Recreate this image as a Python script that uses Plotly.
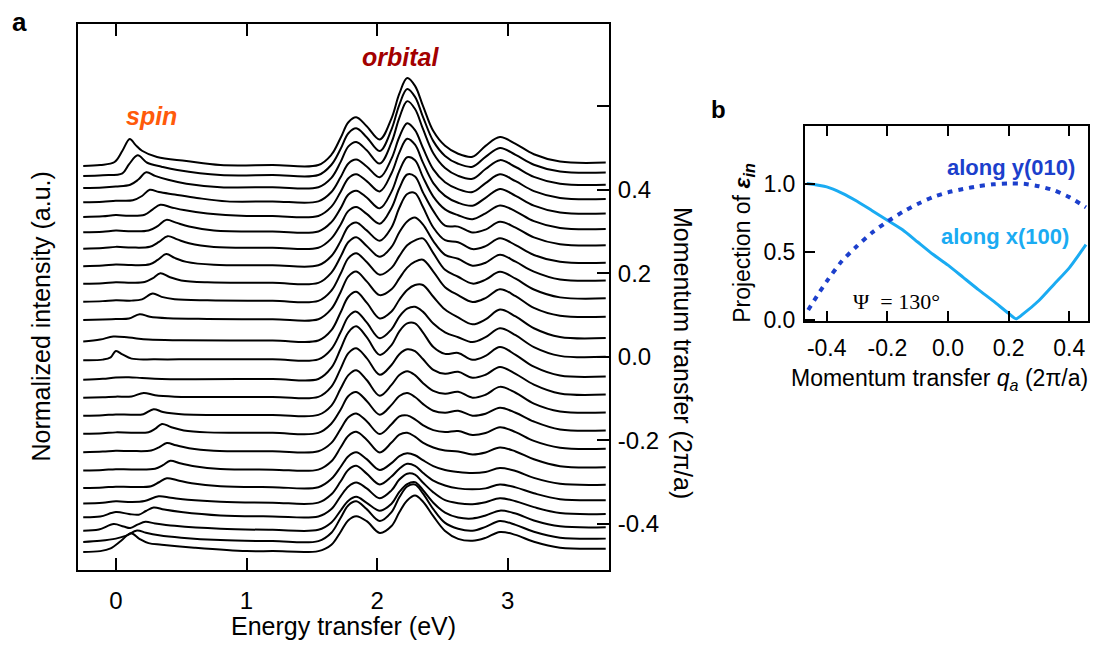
import plotly.graph_objects as go

W, H = 1094, 652

# ---------------- Panel a : RIXS spectra (waterfall) ----------------
# momentum transfer of each spectrum (offset on the right axis), top to bottom
momentum_q = [0.465, 0.441, 0.412, 0.378, 0.343, 0.306, 0.267, 0.225, 0.183, 0.140,
              0.096, 0.045, 0.0, -0.047, -0.090, -0.133, -0.176, -0.220, -0.264,
              -0.306, -0.343, -0.376, -0.408, -0.435, -0.459]

# low-energy (spin) part: energies and intensities (a.u.) read per spectrum
spin_energy = [
    [-0.25, -0.12, -0.01, 0.05, 0.106, 0.15, 0.2, 0.315, 0.54, 0.8, 1.2],
    [-0.25, -0.1, 0.05, 0.1, 0.167, 0.24, 0.35, 0.47, 0.8, 1.2],
    [-0.25, -0.1, 0.0, 0.11, 0.17, 0.233, 0.3, 0.4, 0.54, 0.8, 1.2],
    [-0.25, -0.1, 0.0, 0.13, 0.2, 0.259, 0.33, 0.45, 0.62, 0.85, 1.2],
    [-0.25, -0.1, 0.0, 0.1, 0.22, 0.28, 0.34, 0.42, 0.52, 0.7, 1.0, 1.2],
    [-0.25, -0.1, 0.0, 0.12, 0.25, 0.32, 0.386, 0.46, 0.56, 0.75, 1.2],
    [-0.25, -0.1, 0.0, 0.12, 0.26, 0.33, 0.396, 0.47, 0.56, 0.75, 1.2],
    [-0.25, -0.1, 0.0, 0.12, 0.26, 0.32, 0.386, 0.45, 0.54, 0.75, 1.2],
    [-0.25, -0.1, 0.0, 0.12, 0.22, 0.28, 0.34, 0.41, 0.5, 0.7, 1.2],
    [-0.25, -0.1, 0.0, 0.12, 0.2, 0.282, 0.35, 0.45, 0.7, 1.2],
    [-0.25, -0.1, 0.0, 0.1, 0.182, 0.26, 0.4, 0.7, 1.2],
    [-0.25, -0.12, -0.02, 0.1, 0.25, 0.5, 1.2],
    [-0.25, -0.1, -0.04, 0.0, 0.05, 0.12, 0.3, 0.6, 1.2],
    [-0.25, -0.1, 0.0, 0.1, 0.2, 0.35, 1.2],
    [-0.25, -0.1, 0.0, 0.12, 0.213, 0.3, 0.45, 1.2],
    [-0.25, -0.1, 0.0, 0.12, 0.21, 0.289, 0.36, 0.5, 1.2],
    [-0.25, -0.1, 0.0, 0.12, 0.25, 0.3, 0.353, 0.42, 0.52, 0.7, 1.2],
    [-0.25, -0.1, 0.0, 0.12, 0.27, 0.33, 0.39, 0.46, 0.56, 0.75, 1.2],
    [-0.25, -0.1, 0.0, 0.12, 0.3, 0.36, 0.417, 0.49, 0.6, 0.8, 1.2],
    [-0.25, -0.1, 0.0, 0.12, 0.27, 0.33, 0.39, 0.47, 0.58, 0.8, 1.2],
    [-0.25, -0.1, 0.0, 0.12, 0.22, 0.327, 0.42, 0.55, 0.8, 1.2],
    [-0.25, -0.12, 0.0, 0.1, 0.175, 0.23, 0.289, 0.37, 0.5, 0.8, 1.2],
    [-0.25, -0.13, -0.017, 0.06, 0.11, 0.17, 0.226, 0.3, 0.45, 0.8, 1.2],
    [-0.25, -0.12, 0.0, 0.08, 0.162, 0.23, 0.33, 0.5, 0.8, 1.2],
    [-0.25, -0.12, -0.04, 0.04, 0.115, 0.18, 0.25, 0.35, 0.6, 1.0, 1.2],
]
spin_intensity = [
    [-3.4, -2.5, 0.6, 12, 24, 18, 12, 5.6, 1.6, -2.5, -2.5],
    [-3.4, -2.6, -0.7, 8.3, 17.6, 10, 6, 2.6, -2.5, -2.5],
    [-3.4, -2.8, -1.8, 0, 5, 12.6, 9, 5, 1, -2.5, -2.5],
    [-3.4, -2.8, -1.8, -1.4, 3, 9.3, 7, 4.5, 1, -2.5, -2.5],
    [-3.4, -2.8, -1.6, -2.2, -1.2, 4, 8.9, 6.5, 3.5, 0, -2.5, -2.5],
    [-3.4, -2.8, -1.6, -2.3, -1.5, 3, 9.3, 6.5, 2.5, -1.5, -2.5],
    [-3.4, -2.8, -1.6, -2.3, -1.5, 3.5, 9.3, 6, 2, -1.8, -2.5],
    [-3.4, -2.8, -1.6, -2.3, -1.5, 3, 8.9, 5, 1, -2, -2.5],
    [-3.4, -2.8, -1.8, -2.3, -1.6, 2, 7.3, 3.5, 0, -2, -2.5],
    [-3.4, -2.8, -2, -2.3, -1, 4.9, 1.5, -0.8, -2, -2.5],
    [-3.4, -2.8, -2.3, -1.8, 2.6, 0, -1.5, -2.2, -2.5],
    [-3.4, -1.5, 1.6, 0.5, -1.5, -2.2, -2.5],
    [-3.4, -2.8, -0.5, 5.9, 2.5, -1.8, -2.5, -2.5, -2.5],
    [-3.4, -2.4, -1.0, -0.7, -1.5, -2.5, -2.5],
    [-3.4, -2.8, -2.2, -2, 1.6, -0.8, -2.2, -2.5],
    [-3.4, -2.8, -2, -2.3, -1.8, 3.3, 0.5, -1.8, -2.5],
    [-3.4, -2.8, -2, -2.3, -1.8, 1.5, 6.6, 3.5, 0, -2, -2.5],
    [-3.4, -2.8, -2, -2.3, -1.8, 1.5, 5.9, 3.5, 0.5, -2, -2.5],
    [-3.4, -2.8, -2, -2.3, -1.6, 2, 6.6, 4, 1, -1.8, -2.5],
    [-3.4, -2.8, -2, -2.3, -1.5, 2.5, 6.6, 4.5, 1.5, -1.5, -2.5],
    [-3.4, -2.6, -1.2, -1.8, -0.8, 3.9, 2.5, 0.5, -1.5, -2.5],
    [-3.4, -2.6, 1.9, 0, -0.7, 3, 6.6, 4.5, 2, -1.5, -2.5],
    [-3.4, -2.2, 3.3, 0.8, -0.7, 3, 5.6, 4, 1.5, -1.5, -2.5],
    [-3.4, -2.2, 0, 3, 8.3, 6, 3.5, 1, -1.5, -2.5],
    [-3.4, -2.5, 0.3, 8, 15.6, 10, 5.6, 4, 1, -2.5, -2.5],
]

# high-energy (orbital) part: common energy grid, intensities (a.u.) per spectrum
orbital_energy = [1.55, 1.65, 1.72, 1.78, 1.84, 1.92, 2.02, 2.11, 2.17, 2.23, 2.29,
                  2.35, 2.43, 2.52, 2.62, 2.73, 2.83, 2.94, 3.06, 3.20, 3.40, 3.75]
orbital_intensity = [
    [-2.5, 8, 25, 41, 46, 37, 23.5, 45, 70, 86, 78, 58, 32, 17, 9, 6, 17, 26, 19, 8.5, 1, 0],
    [-2.5, 8, 24, 40, 45, 36, 22, 44, 69, 85, 77, 57, 32, 17, 9, 6, 16, 25, 18, 8, 1, 0],
    [-2.5, 7, 23, 39, 43.5, 35, 21.5, 43, 68, 85, 77, 57, 32, 17, 9, 6, 16, 25, 18, 8, 1, 0],
    [-2.5, 7, 22, 36, 40, 33, 22, 41, 63, 77, 70, 52, 30, 17, 10, 7, 16, 25, 18, 8, 1, 0],
    [-2.5, 7, 22, 36, 40, 33, 22.5, 41, 62, 76, 70, 52, 31, 18, 11, 8, 16, 25, 18, 8, 1, 0],
    [-2.5, 7, 21, 35, 39, 32, 21, 38, 59, 73, 70, 53, 33, 20, 14, 10, 16, 24, 18, 8, 1, 0],
    [-2.5, 7, 21, 35, 39, 32, 22, 38, 58, 72, 70, 54, 35, 20, 19, 13, 16, 24, 18, 8, 1, 0],
    [-2.5, 7, 22, 37, 41, 33, 22.5, 36, 56, 70, 71, 57, 36, 23, 21, 14, 17, 25, 18, 8, 1, 0],
    [-2.5, 8, 24, 39, 44, 35, 24, 34, 49, 60, 64, 57, 40, 26, 22, 15, 18, 26, 19, 9, 1, 0],
    [-2.5, 8, 25, 41, 46, 37, 24, 31, 43, 54, 59, 61, 46, 29, 22, 15, 19, 27, 20, 9, 1, 0],
    [-2.5, 8, 25, 41, 46, 36, 22, 28, 39, 50, 56, 58, 46, 30, 22, 15, 19, 28, 21, 9, 1, 0],
    [-2.5, 8, 26, 42, 47, 36, 20, 27, 39, 49, 54, 54, 42, 29, 21, 14, 19, 29, 22, 10, 1, 0],
    [-2.5, 8, 25, 41, 46, 35, 19, 28, 41, 49, 51, 46, 34, 25, 20, 15, 20, 29, 22, 10, 1, 0],
    [-2.5, 9, 28, 45, 51, 40, 22, 32, 46, 54, 54, 45, 30, 23, 24, 17, 21, 30, 22, 10, 1, 0],
    [-2.5, 8, 26, 42, 47, 37, 20, 30, 41, 46, 44, 36, 25, 21, 23, 17, 20, 28, 21, 10, 1, 0],
    [-2.5, 7, 24, 38, 43, 33, 17, 28, 38, 42, 38, 30, 22, 19, 21, 15, 18, 26, 20, 9, 1, 0],
    [-2.5, 7, 21, 35, 39, 30, 16, 26, 35, 38, 34, 27, 20, 18, 20, 15, 17, 23, 18, 9, 1, 0],
    [-2.5, 6, 20, 32, 36, 28, 15, 25, 33, 34, 30, 24, 19, 17, 18, 14, 16, 22, 17, 8, 1, 0],
    [-2.5, 6, 20, 32, 36, 28, 15, 25, 33, 35, 31, 25, 20, 17, 16, 13, 15, 20, 16, 8, 1, 0],
    [-2.5, 6, 18, 29, 33, 26, 15, 22, 29, 32, 30, 25, 19, 15, 13, 12, 13, 17, 14, 7, 1, 0],
    [-2.5, 6, 19, 31, 35, 27, 16, 24, 32, 37, 35, 28, 20, 15, 12, 11, 12, 16, 13, 7, 1, 0],
    [-2.5, 5, 18, 28, 32, 26, 16, 24, 35, 41, 40, 32, 22, 14, 11, 10, 12, 16, 13, 7, 1, 0],
    [-2.5, 5, 17, 27, 31, 25, 17, 24, 36, 44, 46, 38, 25, 15, 10, 9, 12, 17, 14, 7, 1, 0],
    [-2.5, 6, 21, 34, 38, 30, 18, 27, 42, 53, 55, 46, 30, 16, 10, 8, 12, 18, 14, 7, 1, 0],
    [-2.5, 4, 17, 29, 33, 28, 16, 23, 37, 49, 54, 48, 33, 18, 10, 8, 11, 17, 14, 7, 1, 0],
]

energy_ticks = [0, 1, 2, 3]
energy_tick_labels = ["0", "1", "2", "3"]
q_ticks = [-0.4, -0.2, 0.0, 0.2, 0.4, 0.6]
q_tick_labels = ["-0.4", "-0.2", "0.0", "0.2", "0.4", " "]

# ---------------- Panel b : polarization projection ----------------
qa_x100 = [-0.466, -0.40, -0.35, -0.30, -0.25, -0.20, -0.15, -0.10, -0.05, 0.00,
           0.05, 0.10, 0.15, 0.20, 0.225, 0.25, 0.30, 0.35, 0.40, 0.455]
proj_x100 = [1.0, 0.975, 0.93, 0.87, 0.80, 0.73, 0.66, 0.57, 0.48, 0.40,
             0.31, 0.22, 0.135, 0.045, 0.005, 0.045, 0.14, 0.26, 0.38, 0.55]
qa_y010 = [-0.461, -0.43, -0.40, -0.35, -0.30, -0.25, -0.20, -0.15, -0.10, -0.05,
           0.00, 0.05, 0.10, 0.15, 0.20, 0.25, 0.30, 0.35, 0.40, 0.455]
proj_y010 = [0.07, 0.18, 0.28, 0.43, 0.54, 0.64, 0.72, 0.79, 0.85, 0.90,
             0.935, 0.96, 0.98, 0.994, 1.0, 0.998, 0.98, 0.95, 0.90, 0.825]
qa_ticks = [-0.4, -0.2, 0.0, 0.2, 0.4]
qa_tick_labels = ["-0.4", "-0.2", "0.0", "0.2", "0.4"]
proj_ticks = [0.0, 0.5, 1.0]
proj_tick_labels = ["0.0", "0.5", "1.0"]

# ---------------- styling constants ----------------
INTENSITY_SCALE = 1.0 / 425.0
SANS = "Liberation Sans, Arial, Helvetica, sans-serif"
SERIF = "Liberation Serif, Times New Roman, serif"
C_SPIN = "#ff5a0a"
C_ORB = "#a30000"
C_Y010 = "#1c3fcc"
C_X100 = "#1aabf2"


def px(x, y):
    return x / W, 1 - y / H


fig = go.Figure()

for q, se, si, oi in zip(momentum_q, spin_energy, spin_intensity, orbital_intensity):
    xs = list(se) + list(orbital_energy)
    ys = [q + v * INTENSITY_SCALE for v in list(si) + list(oi)]
    fig.add_trace(go.Scatter(x=xs, y=ys, mode="lines", xaxis="x", yaxis="y",
                             line=dict(color="black", width=2, shape="spline", smoothing=1.0),
                             showlegend=False, hoverinfo="skip"))

fig.add_trace(go.Scatter(x=qa_x100, y=proj_x100, mode="lines", xaxis="x2", yaxis="y2",
                         line=dict(color=C_X100, width=3, shape="spline", smoothing=0.6),
                         showlegend=False))
fig.add_trace(go.Scatter(x=qa_y010, y=proj_y010, mode="lines", xaxis="x2", yaxis="y2",
                         line=dict(color=C_Y010, width=4, dash="5px,6px", shape="spline", smoothing=0.6),
                         showlegend=False))

ax_common = dict(showgrid=False, zeroline=False, showline=True, linecolor="black",
                 linewidth=2, ticks="inside", tickcolor="black", tickwidth=1.8)

x0a, x1a = 78 / W, 609 / W
y0a, y1a = 1 - 580 / H, 1 - 24 / H
x0b, x1b = 805 / W, 1088 / W
y0b, y1b = 1 - 327 / H, 1 - 128.3 / H

fig.update_layout(
    width=W, height=H, autosize=False,
    margin=dict(l=0, r=0, t=0, b=0),
    paper_bgcolor="white", plot_bgcolor="white",
    font=dict(family=SANS, color="black"),
    xaxis=dict(**ax_common, domain=[x0a, x1a], range=[-0.29, 3.775], mirror="ticks",
               ticklen=12, tickvals=energy_ticks, ticktext=energy_tick_labels,
               tickfont=dict(size=24), ticklabelstandoff=8, anchor="y"),
    yaxis=dict(**ax_common, domain=[y0a, y1a], range=[-0.5106, 0.7976], mirror=True,
               side="right", ticklen=12, tickvals=q_ticks, ticktext=q_tick_labels,
               tickfont=dict(size=24), ticklabelstandoff=2, anchor="x"),
    xaxis2=dict(**ax_common, domain=[x0b, x1b], range=[-0.4716, 0.4617], mirror="ticks",
                ticklen=10, tickvals=qa_ticks, ticktext=qa_tick_labels,
                tickfont=dict(size=23), ticklabelstandoff=5, anchor="y2"),
    yaxis2=dict(**ax_common, domain=[y0b, y1b], range=[-0.0145, 1.422], mirror=True,
                ticklen=10, tickvals=proj_ticks, ticktext=proj_tick_labels,
                tickfont=dict(size=23), ticklabelstandoff=3, anchor="x2"),
)

annotations = []


def add_text(text, x, y, size, color="black", family=SANS, angle=0, xanchor="center"):
    ax, ay = px(x, y)
    annotations.append(dict(text=text, x=ax, y=ay, xref="paper", yref="paper",
                            showarrow=False, xanchor=xanchor, yanchor="middle",
                            textangle=angle, font=dict(size=size, color=color, family=family)))


add_text("<b>a</b>", 19, 22, 26)
add_text("<b>b</b>", 718, 111, 24)
add_text("<b><i>spin</i></b>", 151, 118, 25, C_SPIN)
add_text("<b><i>orbital</i></b>", 400, 58, 25, C_ORB)
add_text("Energy transfer (eV)", 343, 637, 25)
add_text("Normalized intensity (a.u.)", 41, 322, 25, angle=-90)
add_text("Momentum transfer (2π/a)", 683, 359, 25, angle=90)
add_text("Projection of <b><i>ε</i></b><sub><b><i>in</i></b></sub>", 744, 247, 23, angle=-90)
add_text("Momentum transfer <i>q</i><sub><i>a</i></sub> (2π/a)", 939, 386, 23)
add_text("<b>along y(010)</b>", 1011, 170, 22, C_Y010)
add_text("<b>along x(100)</b>", 1005, 241, 22, C_X100)
add_text("Ψ\u00a0\u00a0= 130°", 896, 307, 22, family=SERIF)

fig.update_layout(annotations=annotations)

fig.write_html("out.html", config={"displayModeBar": False},
               post_script="document.body.style.margin='0px';")
